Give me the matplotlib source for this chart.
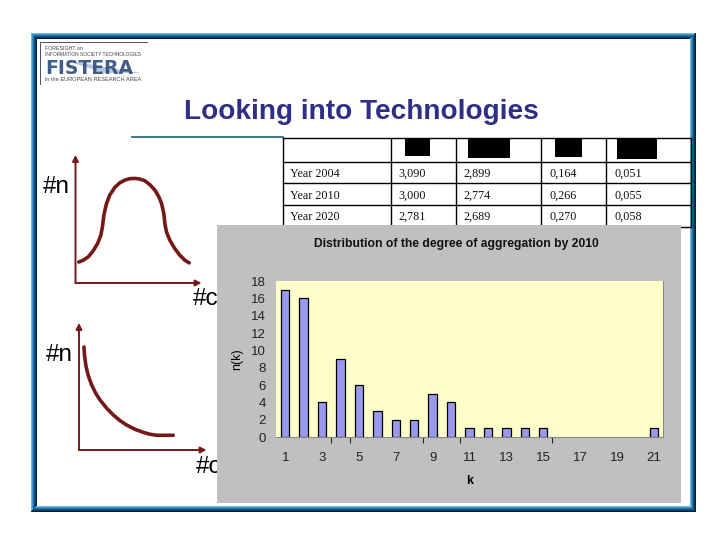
import matplotlib
matplotlib.use('Agg')
import matplotlib.pyplot as plt
from matplotlib.patches import Rectangle, Polygon

plt.rcParams['font.family'] = ['Liberation Sans', 'DejaVu Sans']

# bar chart values
k_values = list(range(1, 22))
n_values = [17, 16, 4, 9, 6, 3, 2, 2, 5, 4, 1, 1, 1, 1, 1, 0, 0, 0, 0, 0, 1]
k_labels = [1, 3, 5, 7, 9, 11, 13, 15, 17, 19, 21]
n_ticks = list(range(0, 19, 2))
stray_ticks = [3.5, 4.5, 8.5, 10.5, 15.5]

# table
row_names = ['Year 2004', 'Year 2010', 'Year 2020']
col_a = ['3,090', '3,000', '2,781']
col_b = ['2,899', '2,774', '2,689']
col_c = ['0,164', '0,266', '0,270']
col_d = ['0,051', '0,055', '0,058']

# hand drawn sketches, in fractions of their axes
bell_x = [.026, .061, .101, .140, .175, .201, .214, .225, .246, .272, .312, .352, .392, .431, .471,
          .511, .550, .590, .630, .661, .683, .701, .709, .722, .749, .788, .828, .868, .902]
bell_y = [.164, .178, .204, .251, .308, .373, .439, .530, .621, .687, .747, .783, .804, .815, .817,
          .812, .799, .768, .726, .674, .621, .543, .465, .399, .334, .269, .217, .178, .157]
decay_x = [.039, .044, .055, .073, .099, .131, .164, .217, .269, .321, .373, .439, .504, .556, .608, .739]
decay_y = [.811, .737, .658, .584, .513, .447, .395, .329, .276, .232, .197, .163, .139, .124, .116, .116]

fig = plt.figure(figsize=(7.2, 5.4), dpi=100, facecolor='white')


def pixel_axes(x0, y0, x1, y1, z=1):
    # axes placed by pixel box, y measured from the top
    return fig.add_axes([x0 / 720, 1 - y1 / 540, (x1 - x0) / 720, (y1 - y0) / 540], zorder=z)


# page overlay in pixels
page = fig.add_axes([0, 0, 1, 1], zorder=0)
page.set_xlim(0, 720)
page.set_ylim(540, 0)
page.axis('off')

# slide border: top and left go light to dark inwards, right and bottom the other way
band_colors = ['#6fb8dc', '#3f97c6', '#1f74a8', '#10527f', '#0a3a60', '#04203c']
x0, y0, x1, y1 = 31, 33, 696, 512
for i, c in enumerate(band_colors):
    page.add_patch(Rectangle((x0 + i, y0 + i), x1 - x0 - 2 * i, 1, fc=c, ec='none'))
    page.add_patch(Rectangle((x0 + i, y0 + i), 1, y1 - y0 - 2 * i, fc=c, ec='none'))
for i, c in enumerate(band_colors):
    j = 5 - i
    page.add_patch(Rectangle((x0 + j, y1 - j - 1), x1 - x0 - 2 * j, 1, fc=c, ec='none'))
    page.add_patch(Rectangle((x1 - j - 1, y0 + j), 1, y1 - y0 - 2 * j, fc=c, ec='none'))

# logo
page.plot([40, 40, 147], [84, 42, 42], color='#44506a', lw=0.7)
page.text(45, 48.5, 'FORESIGHT on', fontsize=3.8, color='#444444', va='center')
page.text(45, 54.5, 'INFORMATION SOCIETY TECHNOLOGIES', fontsize=3.5, color='#444444', va='center')
page.add_patch(Polygon([[64, 60], [141, 73], [104, 73]], fc='#b8c4e0', ec='none'))
page.text(45, 68, 'FISTERA', fontsize=13.5, family='DejaVu Sans', fontweight='bold',
          color='#2c4a78', va='center', alpha=0.9)
page.text(45, 79.5, 'in the EUROPEAN RESEARCH AREA', fontsize=4.05, color='#444444', va='center')

# title
page.text(361.5, 112, 'Looking into Technologies', fontsize=20.2, fontweight='bold',
          color='#2e2f86', ha='center', va='center')
page.plot([132, 283], [137, 137], color='#2f6f86', lw=1.3)

# table
col_edges = [283, 391, 456, 541, 606, 691]
row_edges = [138, 162, 183, 205, 227]
for x in col_edges:
    page.plot([x, x], [138, 227], color='black', lw=1)
for y in row_edges:
    page.plot([283, 691], [y, y], color='black', lw=1)
for bx0, bx1, by1 in [(405, 430, 156), (468, 510, 158), (555, 582, 157), (617, 657, 159)]:
    page.add_patch(Rectangle((bx0, 138), bx1 - bx0, by1 - 138, fc='black', ec='none'))
for i, name in enumerate(row_names):
    y = [177, 199, 220][i]
    page.text(290.5, y, name, fontsize=8.7, family='Liberation Serif', va='baseline', color='#111111')
    for x, col in zip([398, 463.5, 550, 614.5], [col_a, col_b, col_c, col_d]):
        page.text(x, y, col[i], fontsize=8.7, family='Liberation Serif', va='baseline', color='#111111')

# sketches
for box, xs, ys, lab_n, lab_c in [
    ((75.5, 155, 201.5, 283), bell_x, bell_y, (42.5, 187), (192.5, 299)),
    ((79, 323, 206.5, 450), decay_x, decay_y, (45.5, 355), (195.5, 467)),
]:
    ax = pixel_axes(*box, z=1)
    ax.axis('off')
    ax.set_xlim(0, 1)
    ax.set_ylim(0, 1)
    ax.plot(xs, ys, color='#741818', lw=2.6, solid_capstyle='round', solid_joinstyle='round')
    for end in [(0, 1), (1, 0)]:
        ax.annotate('', xy=end, xytext=(0, 0), arrowprops=dict(
            arrowstyle='-|>,head_width=0.18,head_length=0.35', color='#741818', lw=1.4,
            shrinkA=0, shrinkB=0))
    page.text(lab_n[0], lab_n[1], '#n', fontsize=17.5, va='center')
    page.text(lab_c[0], lab_c[1], '#c', fontsize=17.5, va='center')

# grey chart panel
panel = pixel_axes(217, 225, 681, 503, z=2)
panel.set_facecolor('#c0c0c0')
panel.set_xticks([])
panel.set_yticks([])
for s in panel.spines.values():
    s.set_visible(False)

ax = pixel_axes(276, 281, 663, 437, z=3)
ax.set_facecolor('#ffffcc')
bars = ax.bar(k_values, n_values, width=0.45, color='#9999ee', edgecolor='black', linewidth=0.9)
for bar, v in zip(bars, n_values):
    if v == 0:
        bar.set_visible(False)
ax.set_xlim(0.5, 21.5)
ax.set_ylim(0, 18)
ax.set_yticks(n_ticks)
ax.set_xticks(k_labels)
ax.tick_params(axis='y', length=0, labelsize=9.5, pad=7.5, colors='#222222')
ax.tick_params(axis='x', length=0, labelsize=9.5, pad=11, colors='#222222')
ax.set_xticks(stray_ticks, minor=True)
ax.tick_params(axis='x', which='minor', length=4, width=0.8, color='#222222')
ax.spines['top'].set_visible(False)
ax.spines['left'].set_visible(False)
ax.spines['right'].set_color('#888888')
ax.spines['bottom'].set_color('#888888')
ax.set_xlabel('k', fontsize=9, fontweight='bold')
ax.xaxis.set_label_coords((470 - 276) / 387, -(475.5 - 437) / 156, transform=ax.transAxes)
ax.set_ylabel('n(k)', fontsize=9)
ax.yaxis.set_label_coords(-(276 - 243) / 387, 0.5, transform=ax.transAxes)
fig.text(456 / 720, 1 - 244 / 540, 'Distribution of the degree of aggregation by 2010', fontsize=8.7,
         fontweight='bold', color='#111111', ha='center', va='center', zorder=5)

fig.savefig('out.png', dpi=100)
